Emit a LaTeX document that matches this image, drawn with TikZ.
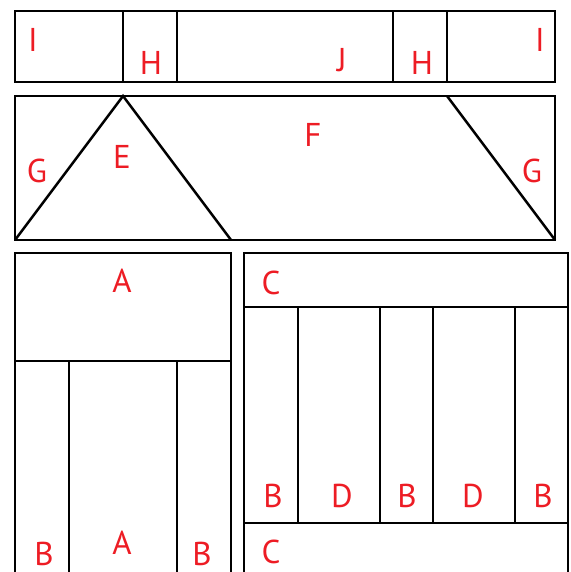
\documentclass[tikz,border=0pt]{standalone}
\usepackage{fontspec}
\setmainfont{PT Sans}
\usetikzlibrary{math}
\definecolor{labelred}{RGB}{237,28,36}

\begin{document}
\begin{tikzpicture}[x=1pt,y=-1pt,line width=2.5pt,
  lab/.style={text=labelred,font=\fontsize{33}{38}\selectfont,inner sep=0pt}]
\tikzmath{
\L=15; \R=555;
\Rr=568;
\yb=580;
}
\useasboundingbox (0,0) rectangle (570,572);
\clip (0,0) rectangle (570,572);

% top strip
\draw (\L,11) rectangle (\R,82);
\draw (123,11) -- (123,82);
\draw (177,11) -- (177,82);
\draw (393,11) -- (393,82);
\draw (447,11) -- (447,82);
\node[lab] (i1) at (33,40) {I};
\node[lab] (h1) at (151,63) {H};
\node[lab] (j) at (342,60) {J};
\node[lab] (h2) at (422,63) {H};
\node[lab] (i2) at (540,40) {I};

% second strip
\draw (\L,96) rectangle (\R,240);
\draw (\L,240) -- (123,96) -- (231,240);
\draw (447,96) -- (\R,240);
\node[lab] (g1) at (37,171) {G};
\node[lab] (e) at (122,157) {E};
\node[lab] (f) at (313,135) {F};
\node[lab] (g2) at (532,171) {G};

% lower left
\draw (\L,\yb) -- (\L,253) -- (231,253) -- (231,\yb);
\draw (\L,361) -- (231,361);
\draw (69,361) -- (69,\yb);
\draw (177,361) -- (177,\yb);
\node[lab] (a1) at (122,281) {A};
\node[lab] (b1) at (44,554) {B};
\node[lab] (a2) at (122,543) {A};
\node[lab] (b2) at (202,554) {B};

% lower right
\draw (244,\yb) -- (244,253) -- (\Rr,253) -- (\Rr,\yb);
\draw (244,307) -- (\Rr,307);
\draw (244,523) -- (\Rr,523);
\draw (298,307) -- (298,523);
\draw (380,307) -- (380,523);
\draw (433,307) -- (433,523);
\draw (515,307) -- (515,523);
\node[lab] (c1) at (271,283) {C};
\node[lab] (b3) at (273,496) {B};
\node[lab] (d1) at (342,496) {D};
\node[lab] (b4) at (407,496) {B};
\node[lab] (d2) at (473,496) {D};
\node[lab] (b5) at (543,496) {B};
\node[lab] (c2) at (271,552) {C};
\end{tikzpicture}
\end{document}
